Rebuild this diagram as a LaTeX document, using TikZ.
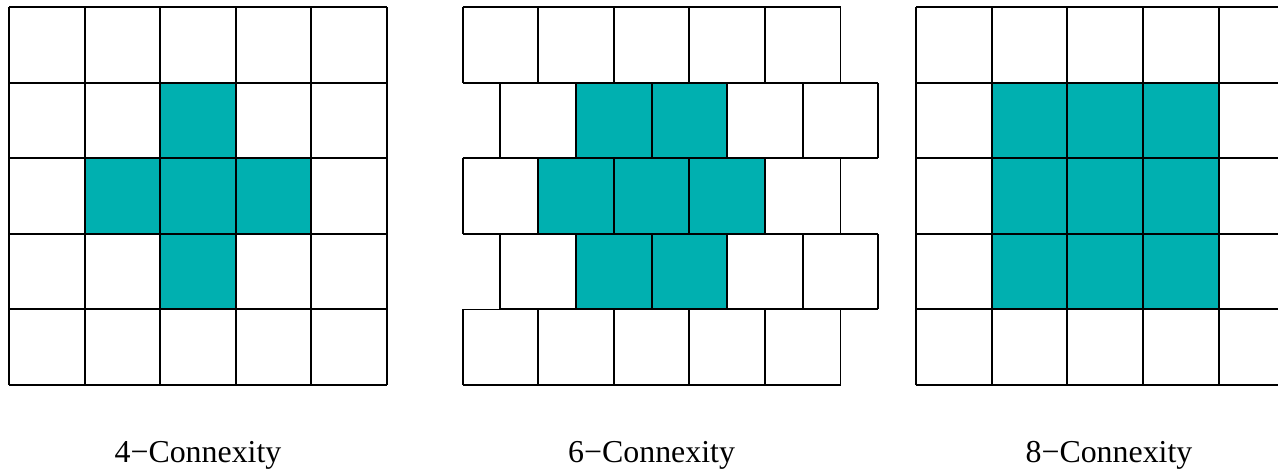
\documentclass[tikz,border=0pt]{standalone}
\usepackage{fontspec}
\setmainfont{Liberation Serif}
\definecolor{cnxteal}{RGB}{0,176,176}
\tikzset{
  cell/.style={draw=black,line width=0.7pt},
  lbl/.style={font=\fontsize{12}{14}\selectfont,inner sep=0pt}
}
\begin{document}
\begin{tikzpicture}[x=1cm,y=1cm]
	   \clip (-0.119,-1.098) rectangle (16.786,5.093);
	   \fill[white] (-0.119,-1.098) rectangle (16.786,5.093);
	   % 4-connexity
	   \fill [fill=cnxteal] (2,3) -- (3,3) -- (3,4) -- (2,4) -- cycle;
	   \fill [fill=cnxteal] (1,2) -- (4,2) -- (4,3) -- (1,3) -- cycle;
	   \fill [fill=cnxteal] (2,1) -- (3,1) -- (3,2) -- (2,2) -- cycle;
	   \draw[cell,step=1cm] (0,0) grid (5,5);
	   % 6-connexity
	   \fill [fill=cnxteal] (7.5,3) -- (9.5,3) -- (9.5,4) -- (7.5,4) -- cycle;
	   \fill [fill=cnxteal] (7,2) -- (10,2) -- (10,3) -- (7,3) -- cycle;
	   \fill [fill=cnxteal] (7.5,1) -- (9.5,1) -- (9.5,2) -- (7.5,2) -- cycle;
	   \draw[cell,step=1cm] (6,4) grid (11,5);
	   \draw[cell,step=1cm,xshift=0.5cm] (6,3) grid (11,4);
	   \draw[cell,step=1cm] (6,2) grid (11,3);
	   \draw[cell,step=1cm,xshift=0.5cm] (6,1) grid (11,2);
	   \draw[cell,step=1cm] (6,0) grid (11,1);
	   % 8-connexity
	   \fill [fill=cnxteal] (13,1) -- (16,1) -- (16,4) -- (13,4) -- cycle;
	   \draw[cell,step=1cm] (12,0) grid (17,5);
	   \node [lbl] (lbl4) at (2.5,-0.93) {4−Connexity};
	   \node [lbl] (lbl6) at (8.5,-0.93) {6−Connexity};
	   \node [lbl] (lbl8) at (14.55,-0.93) {8−Connexity};
	\end{tikzpicture}
\end{document}
